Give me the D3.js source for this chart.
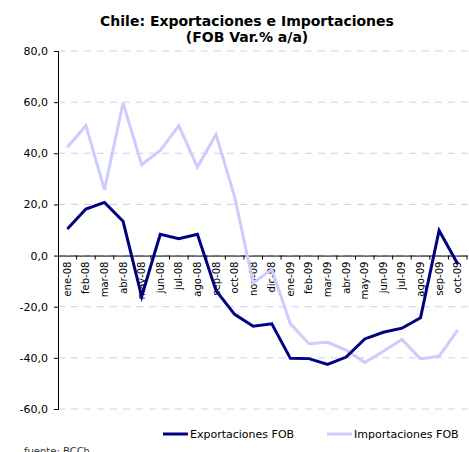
<!DOCTYPE html>
<html>
<head>
<meta charset="utf-8">
<script src="https://cdn.jsdelivr.net/npm/d3@7"></script>
<style>
  body { margin: 0; background: #fff; }
  text { font-family: Tahoma, "DejaVu Sans", sans-serif; }
</style>
</head>
<body>
<div id="chart"></div>
<script>
var months = ["ene-08","feb-08","mar-08","abr-08","may-08","jun-08","jul-08","ago-08","sep-08","oct-08","nov-08","dic-08",
              "ene-09","feb-09","mar-09","abr-09","may-09","jun-09","jul-09","ago-09","sep-09","oct-09"];
var exportaciones = [10.4, 18.2, 20.8, 13.4, -16.0, 8.3, 6.6, 8.3, -13.7, -23.0, -27.6, -26.7,
                     -40.2, -40.3, -42.6, -39.7, -32.6, -30.0, -28.4, -24.3, 9.8, -3.3];
var importaciones = [42.4, 50.8, 25.8, 59.6, 35.5, 41.1, 50.8, 34.6, 47.3, 23.0, -10.7, -5.5,
                     -26.7, -34.5, -33.9, -37.0, -41.8, -37.4, -32.8, -40.4, -39.3, -29.2];
var yTicks = [80, 60, 40, 20, 0, -20, -40, -60];

var W = 469, H = 452;
var margin = {left: 58, right: 467, top: 51, bottom: 409};

var svg = d3.select("#chart").append("svg")
  .attr("width", W).attr("height", H);

var x = d3.scaleBand().domain(months).range([margin.left, margin.right]);
var y = d3.scaleLinear().domain([-60, 80]).range([margin.bottom, margin.top]);
var fmt = function(d) { return d3.format(".1f")(d).replace(".", ",").replace("−", "-"); };

// grid
svg.append("g").selectAll("line")
  .data(yTicks)
  .enter().append("line")
    .attr("x1", margin.left).attr("x2", W)
    .attr("y1", function(d) { return y(d); })
    .attr("y2", function(d) { return y(d); })
    .attr("stroke", "#ccccff")
    .attr("stroke-width", 1)
    .attr("stroke-dasharray", "7,6");

// y axis
var yAxis = svg.append("g")
  .attr("transform", "translate(" + margin.left + ",0)")
  .call(d3.axisLeft(y).tickValues(yTicks).tickSize(4).tickPadding(6).tickFormat(fmt));
yAxis.select(".domain").attr("stroke", "#000");
yAxis.selectAll("text").attr("font-size", 11).attr("fill", "#000");

// x axis at zero
var xAxis = svg.append("g")
  .attr("transform", "translate(0," + y(0) + ")")
  .call(d3.axisBottom(x).tickSize(0).tickSizeOuter(0));
xAxis.select(".domain").attr("stroke", "#000");
xAxis.selectAll(".tick line").remove();
xAxis.selectAll("text")
  .attr("font-size", 10)
  .attr("fill", "#000")
  .attr("text-anchor", "end")
  .attr("transform", "rotate(-90)")
  .attr("x", -6)
  .attr("y", 0)
  .attr("dy", "0.35em");
xAxis.append("g").selectAll("line")
  .data(months)
  .enter().append("line")
    .attr("x1", function(d) { return x(d) + x.bandwidth(); })
    .attr("x2", function(d) { return x(d) + x.bandwidth(); })
    .attr("y1", 0).attr("y2", 4)
    .attr("stroke", "#000");

// lines
var line = d3.line()
  .x(function(d, i) { return x(months[i]) + x.bandwidth() / 2; })
  .y(function(d) { return y(d); });

svg.append("path").datum(importaciones)
  .attr("fill", "none").attr("stroke", "#ccccff").attr("stroke-width", 3)
  .attr("d", line);

svg.append("path").datum(exportaciones)
  .attr("fill", "none").attr("stroke", "#000080").attr("stroke-width", 3)
  .attr("d", line);

// title
svg.append("text").attr("x", 247).attr("y", 26)
  .attr("text-anchor", "middle").attr("font-size", 14).attr("font-weight", "bold")
  .text("Chile: Exportaciones e Importaciones");
svg.append("text").attr("x", 247).attr("y", 42)
  .attr("text-anchor", "middle").attr("font-size", 14).attr("font-weight", "bold")
  .text("(FOB Var.% a/a)");

// legend
var legend = [
  {name: "Exportaciones FOB", color: "#000080", x: 163},
  {name: "Importaciones FOB", color: "#ccccff", x: 327}
];
var lg = svg.append("g").selectAll("g").data(legend).enter().append("g");
lg.append("line")
  .attr("x1", function(d) { return d.x; }).attr("x2", function(d) { return d.x + 25; })
  .attr("y1", 434).attr("y2", 434)
  .attr("stroke", function(d) { return d.color; }).attr("stroke-width", 3);
lg.append("text")
  .attr("x", function(d) { return d.x + 27; }).attr("y", 438)
  .attr("font-size", 11).attr("fill", "#000")
  .text(function(d) { return d.name; });

svg.append("text").attr("x", 24).attr("y", 455)
  .attr("font-size", 10).attr("fill", "#333")
  .text("fuente: BCCh");
</script>
</body>
</html>
